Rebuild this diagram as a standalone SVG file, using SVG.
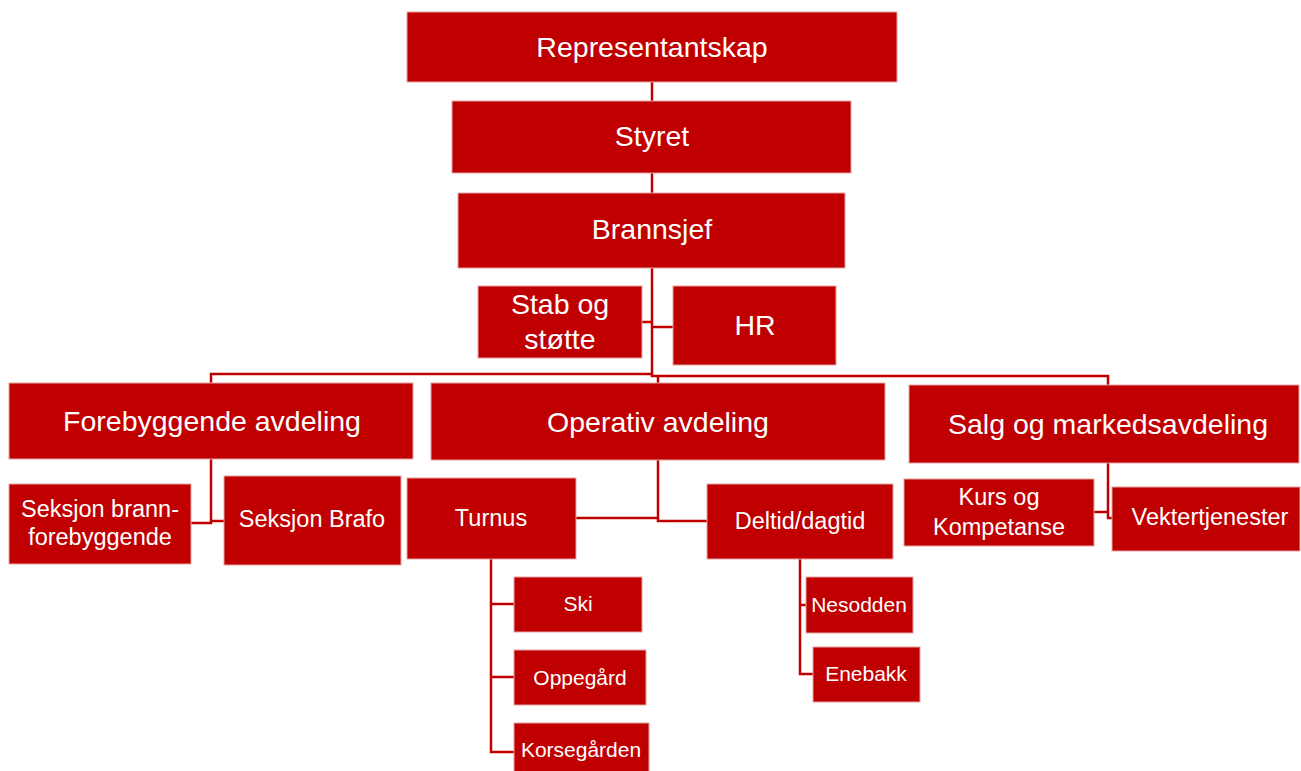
<svg xmlns="http://www.w3.org/2000/svg" width="1301" height="771" viewBox="0 0 1301 771">
<style>
.box{fill:#C00000;stroke:#E6A3A3;stroke-width:1}
.c{fill:none;stroke:#C00000;stroke-width:2.5}
text{font-family:"Liberation Sans",Arial,sans-serif;fill:#FFFFFF;text-anchor:middle}
.l1{font-size:28.5px}
.l2{font-size:23.5px}
.l3{font-size:21px}
</style>
<rect width="1301" height="771" fill="#FFFFFF"/>
<g id="connectors">
<path class="c" d="M652,82 V101"/>
<path class="c" d="M652,173 V193"/>
<path class="c" d="M652,268 V376 H1108 V385"/>
<path class="c" d="M652,374 H211 V383"/>
<path class="c" d="M658,376 V383"/>
<path class="c" d="M642,322 H652"/>
<path class="c" d="M652,327 H673"/>
<path class="c" d="M211,459 V523 H191"/>
<path class="c" d="M211,521 H224"/>
<path class="c" d="M658,460 V521 H707"/>
<path class="c" d="M658,518 H576"/>
<path class="c" d="M1108,463 V518 H1112"/>
<path class="c" d="M1108,512 H1094"/>
<path class="c" d="M491,559 V752 H514"/>
<path class="c" d="M491,604 H514"/>
<path class="c" d="M491,677 H514"/>
<path class="c" d="M800,559 V674 H813"/>
<path class="c" d="M800,605 H806"/>
</g>
<g id="representantskap"><rect class="box" x="407" y="12" width="490" height="70"/><text class="l1" x="652" y="57">Representantskap</text></g>
<g id="styret"><rect class="box" x="452" y="101" width="399" height="72"/><text class="l1" x="652" y="146">Styret</text></g>
<g id="brannsjef"><rect class="box" x="458" y="193" width="387" height="75"/><text class="l1" x="652" y="239">Brannsjef</text></g>
<g id="stab"><rect class="box" x="478" y="286" width="164" height="72"/><text class="l1" x="560" y="314">Stab og</text><text class="l1" x="560" y="349">støtte</text></g>
<g id="hr"><rect class="box" x="673" y="286" width="163" height="79"/><text class="l1" x="755" y="335">HR</text></g>
<g id="forebyggende"><rect class="box" x="9" y="383" width="404" height="76"/><text class="l1" x="212" y="431">Forebyggende avdeling</text></g>
<g id="operativ"><rect class="box" x="431" y="383" width="454" height="77"/><text class="l1" x="658" y="432">Operativ avdeling</text></g>
<g id="salg"><rect class="box" x="909" y="385" width="390" height="78"/><text class="l1" x="1108" y="434">Salg og markedsavdeling</text></g>
<g id="seksjon-brann"><rect class="box" x="9" y="484" width="182" height="80"/><text class="l2" x="100" y="517">Seksjon brann-</text><text class="l2" x="100" y="545">forebyggende</text></g>
<g id="seksjon-brafo"><rect class="box" x="224" y="476" width="177" height="89"/><text class="l2" x="312" y="527">Seksjon Brafo</text></g>
<g id="turnus"><rect class="box" x="407" y="478" width="169" height="81"/><text class="l2" x="491" y="526">Turnus</text></g>
<g id="deltid"><rect class="box" x="707" y="484" width="186" height="75"/><text class="l2" x="800" y="529">Deltid/dagtid</text></g>
<g id="kurs"><rect class="box" x="904" y="479" width="190" height="67"/><text class="l2" x="999" y="505">Kurs og</text><text class="l2" x="999" y="535">Kompetanse</text></g>
<g id="vekter"><rect class="box" x="1112" y="487" width="188" height="64"/><text class="l2" x="1210" y="525">Vektertjenester</text></g>
<g id="ski"><rect class="box" x="514" y="577" width="128" height="55"/><text class="l3" x="578" y="611">Ski</text></g>
<g id="oppegard"><rect class="box" x="514" y="650" width="132" height="55"/><text class="l3" x="580" y="685">Oppegård</text></g>
<g id="korsegarden"><rect class="box" x="514" y="723" width="135" height="50"/><text class="l3" x="581" y="757">Korsegården</text></g>
<g id="nesodden"><rect class="box" x="806" y="577" width="107" height="56"/><text class="l3" x="859" y="612">Nesodden</text></g>
<g id="enebakk"><rect class="box" x="813" y="647" width="107" height="55"/><text class="l3" x="866" y="681">Enebakk</text></g>
</svg>
